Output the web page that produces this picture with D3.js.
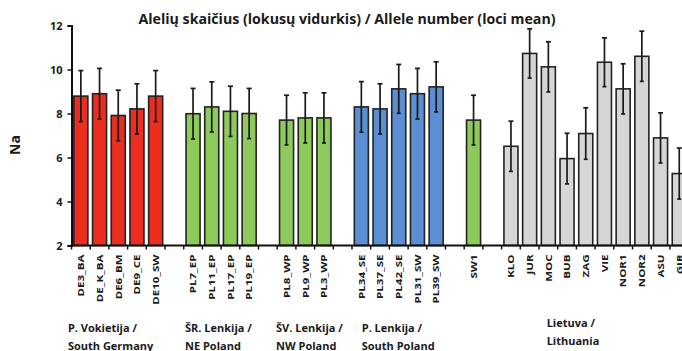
<!DOCTYPE html>
<html>
<head>
<meta charset="utf-8">
<script src="https://cdn.jsdelivr.net/npm/d3@7"></script>
<style>
  html, body { margin: 0; padding: 0; background: #fff; overflow: hidden; }
  svg { display: block; }
  text { font-family: "Open Sans", Lato, sans-serif; font-weight: bold; fill: #1a1a1a; }
</style>
</head>
<body>
<svg id="chart" width="682" height="351"></svg>
<script>
// Populations, in plotting order ("" marks an empty spacer slot between regions)
const categories = [
  "DE3_BA", "DE_K_BA", "DE6_BM", "DE9_CE", "DE10_SW", "",
  "PL7_EP", "PL11_EP", "PL17_EP", "PL19_EP", "",
  "PL8_WP", "PL9_WP", "PL3_WP", "",
  "PL34_SE", "PL37_SE", "PL42_SE", "PL31_SW", "PL39_SW", "",
  "SW1", "",
  "KLO", "JUR", "MOC", "BUB", "ZAG", "VIE", "NOR1", "NOR2", "ASU", "GIR"
];

// Mean number of alleles per population (Na)
const meanNa = [
  8.79, 8.90, 7.91, 8.21, 8.79, null,
  7.99, 8.30, 8.10, 8.00, null,
  7.70, 7.80, 7.80, null,
  8.30, 8.21, 9.12, 8.90, 9.21, null,
  7.70, null,
  6.51, 10.73, 10.12, 5.95, 7.09, 10.33, 9.12, 10.60, 6.89, 5.27
];

// Error bar half-lengths
const errNa = [
  1.16, 1.15, 1.15, 1.14, 1.16, null,
  1.15, 1.14, 1.14, 1.14, null,
  1.13, 1.14, 1.14, null,
  1.15, 1.14, 1.11, 1.15, 1.14, null,
  1.13, null,
  1.14, 1.12, 1.14, 1.15, 1.17, 1.11, 1.14, 1.14, 1.14, 1.16
];

// Region of each slot, used for the fill colour
const region = [
  "DE", "DE", "DE", "DE", "DE", null,
  "NE", "NE", "NE", "NE", null,
  "NW", "NW", "NW", null,
  "S", "S", "S", "S", "S", null,
  "SW", null,
  "LT", "LT", "LT", "LT", "LT", "LT", "LT", "LT", "LT", "LT"
];

const regionColor = { DE: "#ea2e20", NE: "#8dc95b", NW: "#8dc95b", S: "#5b8ed2", SW: "#8dc95b", LT: "#d6d6d6" };

// Region captions under the axis (two lines each)
const groupLabels = [
  ["P. Vokietija /", "South Germany"],
  ["ŠR. Lenkija /", "NE Poland"],
  ["ŠV. Lenkija /", "NW Poland"],
  ["P. Lenkija /", "South Poland"],
  ["Lietuva /", "Lithuania"]
];

const yTicks = [2, 4, 6, 8, 10, 12];

const svg = d3.select("#chart");
const slots = categories.map((c, i) => i);
const step = 18.7;
const x0 = 71.5;

const x = d3.scaleBand()
  .domain(slots)
  .range([x0, x0 + step * slots.length])
  .paddingInner(0.25)
  .paddingOuter(0.125);

const y = d3.scaleLinear().domain([2, 12]).range([245.5, 25.5]);

const rows = slots.map(i => ({
  i, name: categories[i], v: meanNa[i], e: errNa[i], r: region[i]
}));
const bars = rows.filter(d => d.v != null);

// Bars
svg.append("g").selectAll("rect").data(bars).join("rect")
  .attr("x", d => x(d.i))
  .attr("y", d => y(d.v))
  .attr("width", x.bandwidth())
  .attr("height", d => y(2) - y(d.v))
  .attr("fill", d => regionColor[d.r])
  .attr("stroke", "#222")
  .attr("stroke-width", 1.6);

// Error bars with caps at both ends
const eb = svg.append("g").attr("stroke", "#1a1a1a").attr("stroke-width", 1.7);
bars.forEach(d => {
  const cx = x(d.i) + x.bandwidth() / 2;
  eb.append("line").attr("x1", cx).attr("x2", cx).attr("y1", y(d.v + d.e)).attr("y2", y(d.v - d.e));
  eb.append("line").attr("x1", cx - 2.5).attr("x2", cx + 2.5).attr("y1", y(d.v + d.e)).attr("y2", y(d.v + d.e));
  eb.append("line").attr("x1", cx - 2).attr("x2", cx + 2).attr("y1", y(d.v - d.e)).attr("y2", y(d.v - d.e));
});

// Y axis
const yAxis = svg.append("g")
  .attr("transform", `translate(${x0},0)`)
  .call(d3.axisLeft(y).tickValues(yTicks).tickSize(4).tickPadding(5).tickFormat(d3.format("d")));
yAxis.select(".domain").attr("stroke", "#111").attr("stroke-width", 2);
yAxis.selectAll(".tick line").attr("stroke", "#111").attr("stroke-width", 1.5);
yAxis.selectAll(".tick text").attr("font-family", "'Open Sans', sans-serif").attr("font-weight", "bold")
  .attr("font-size", 11).attr("fill", "#1a1a1a");

// X axis: line along the baseline, ticks at every slot boundary
const xAxis = svg.append("g").attr("transform", `translate(0,${y(2)})`);
xAxis.append("line").attr("x1", x0 - 1).attr("x2", 690).attr("y1", 0).attr("y2", 0)
  .attr("stroke", "#111").attr("stroke-width", 2);
const bounds = d3.range(slots.length + 1).map(k => x0 + k * x.step());
xAxis.selectAll("line.t").data(bounds).join("line").attr("class", "t")
  .attr("x1", d => d).attr("x2", d => d).attr("y1", 0).attr("y2", 4)
  .attr("stroke", "#111").attr("stroke-width", 1.5);

// Rotated population labels, stretched along the reading direction
svg.append("g").selectAll("text").data(rows.filter(d => d.name)).join("text")
  .attr("transform", d => `translate(${x(d.i) + x.bandwidth() / 2 + 3.3},${y(2) + 9}) rotate(-90) scale(1.2,1)`)
  .attr("text-anchor", "end")
  .attr("font-size", 9.6)
  .text(d => d.name);

// Region captions, left edge given in slot units along the x axis
const captionAt = [-0.19, 6.07, 10.94, 15.52, 25.41];
const captionTop = [332, 332, 332, 332, 327];
groupLabels.forEach((lines, k) => {
  const lx = x0 + captionAt[k] * x.step();
  const t = svg.append("text").attr("x", lx).attr("y", captionTop[k]).attr("font-size", 11);
  lines.forEach((l, j) => t.append("tspan").attr("x", lx).attr("dy", j ? 17.5 : 0).text(l));
});

// Title
svg.append("text").attr("x", 347).attr("y", 24).attr("text-anchor", "middle")
  .attr("font-size", 13.5)
  .attr("textLength", 417).attr("lengthAdjust", "spacingAndGlyphs")
  .text("Alelių skaičius (lokusų vidurkis) / Allele number (loci mean)");

// Y axis title
svg.append("text").attr("transform", "translate(20,145) rotate(-90)")
  .attr("text-anchor", "middle").attr("font-size", 14).text("Na");
</script>
</body>
</html>
